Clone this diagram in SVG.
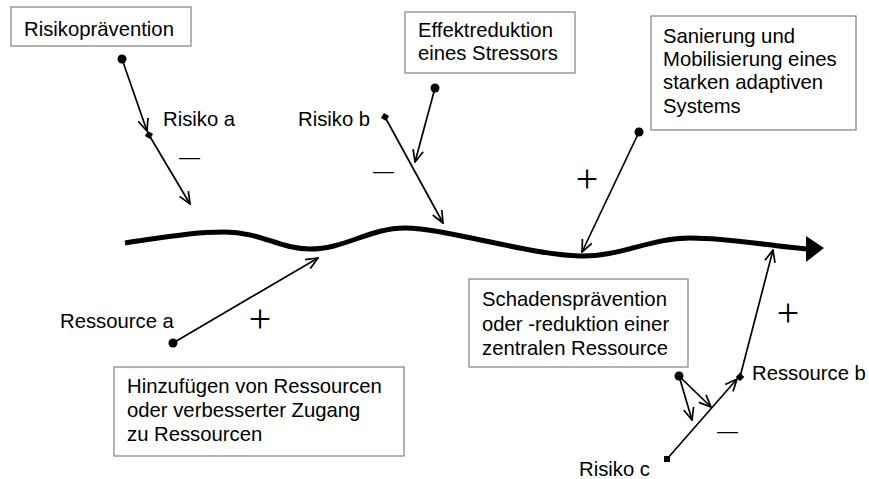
<svg xmlns="http://www.w3.org/2000/svg" width="869" height="479" viewBox="0 0 869 479">
<style>
  text { font-family: "Liberation Sans", Arial, sans-serif; font-size: 20.3px; fill: #000; }
  .box { fill: #fff; stroke: #808080; stroke-width: 1.2; }
  .conn { fill: none; stroke: #000; stroke-width: 1.7; }
  .main { fill: none; stroke: #000; stroke-width: 5; }
  .sign { font-family: "Liberation Serif", "Times New Roman", serif; font-size: 40px; text-anchor: middle; }
  .minus { font-size: 21px; }
</style>
<defs>
  <marker id="open" viewBox="0 0 14 12" refX="13" refY="6" markerWidth="14" markerHeight="12" markerUnits="userSpaceOnUse" orient="auto">
    <path d="M1,0.8 L13,6 L1,11.2" fill="none" stroke="#000" stroke-width="1.7"/>
  </marker>
</defs>
<rect width="869" height="479" fill="#fff"/>

<g id="main-curve">
  <path class="main" d="M125,243 C160,238 190,232 225,232 C260,232 280,249 310,249 C345,249 370,228 405,228 C445,228 530,255 580,256 C620,257 650,238 690,238 C730,238 770,246 808,249"/>
  <polygon points="806,236 824,248 806,262" fill="#000"/>
</g>

<g id="connectors">
  <line class="conn" x1="122" y1="59" x2="147" y2="131" marker-end="url(#open)"/>
  <line class="conn" x1="149" y1="135" x2="190" y2="204" marker-end="url(#open)"/>
  <line class="conn" x1="435" y1="88" x2="415" y2="162" marker-end="url(#open)"/>
  <line class="conn" x1="385" y1="117" x2="443" y2="223" marker-end="url(#open)"/>
  <line class="conn" x1="639" y1="132" x2="582" y2="252" marker-end="url(#open)"/>
  <line class="conn" x1="173" y1="343" x2="318" y2="258" marker-end="url(#open)"/>
  <line class="conn" x1="740" y1="377" x2="773" y2="250" marker-end="url(#open)"/>
  <line class="conn" x1="667" y1="459" x2="737" y2="379" marker-end="url(#open)"/>
  <line class="conn" x1="679" y1="376" x2="692" y2="420" marker-end="url(#open)"/>
  <line class="conn" x1="679" y1="376" x2="711" y2="407" marker-end="url(#open)"/>
  <circle cx="122" cy="59" r="4.5" fill="#000"/>
  <circle cx="435" cy="88" r="4.5" fill="#000"/>
  <circle cx="639" cy="132" r="4.5" fill="#000"/>
  <circle cx="173" cy="343" r="4.5" fill="#000"/>
  <circle cx="679" cy="376" r="4.5" fill="#000"/>
  <rect x="146" y="132" width="6" height="6" fill="#000" transform="rotate(30 149 135)"/>
  <rect x="382" y="114" width="6" height="6" fill="#000" transform="rotate(30 385 117)"/>
  <rect x="737" y="374" width="6" height="6" fill="#000" transform="rotate(45 740 377)"/>
  <rect x="664" y="456" width="6" height="6" fill="#000"/>
</g>

<g id="node-risikopraevention">
  <rect class="box" x="11" y="7" width="180" height="39"/>
  <text x="24" y="36">Risikoprävention</text>
</g>
<g id="node-effektreduktion">
  <rect class="box" x="405" y="12" width="170" height="61"/>
  <text x="418" y="37">Effektreduktion</text>
  <text x="418" y="60">eines Stressors</text>
</g>
<g id="node-sanierung">
  <rect class="box" x="651" y="16" width="205" height="114"/>
  <text x="663" y="43">Sanierung und</text>
  <text x="663" y="66">Mobilisierung eines</text>
  <text x="663" y="89">starken adaptiven</text>
  <text x="663" y="113">Systems</text>
</g>
<g id="node-hinzufuegen">
  <rect class="box" x="114" y="367" width="290" height="89"/>
  <text x="127" y="393">Hinzufügen von Ressourcen</text>
  <text x="127" y="417">oder verbesserter Zugang</text>
  <text x="127" y="441">zu Ressourcen</text>
</g>
<g id="node-schadenspraevention">
  <rect class="box" x="469" y="279" width="219" height="88"/>
  <text x="482" y="306">Schadensprävention</text>
  <text x="482" y="331">oder -reduktion einer</text>
  <text x="482" y="355">zentralen Ressource</text>
</g>

<g id="labels">
  <text x="163" y="126">Risiko a</text>
  <text x="298" y="126">Risiko b</text>
  <text x="60" y="328">Ressource a</text>
  <text x="752" y="380">Ressource b</text>
  <text x="579" y="476">Risiko c</text>
</g>

<g id="signs">
  <text class="minus" x="179" y="164">—</text>
  <text class="minus" x="373" y="178">—</text>
  <text class="minus" x="717" y="438">—</text>
  <text class="sign" x="587" y="192">+</text>
  <text class="sign" x="260" y="332">+</text>
  <text class="sign" x="788" y="326">+</text>
</g>
</svg>
